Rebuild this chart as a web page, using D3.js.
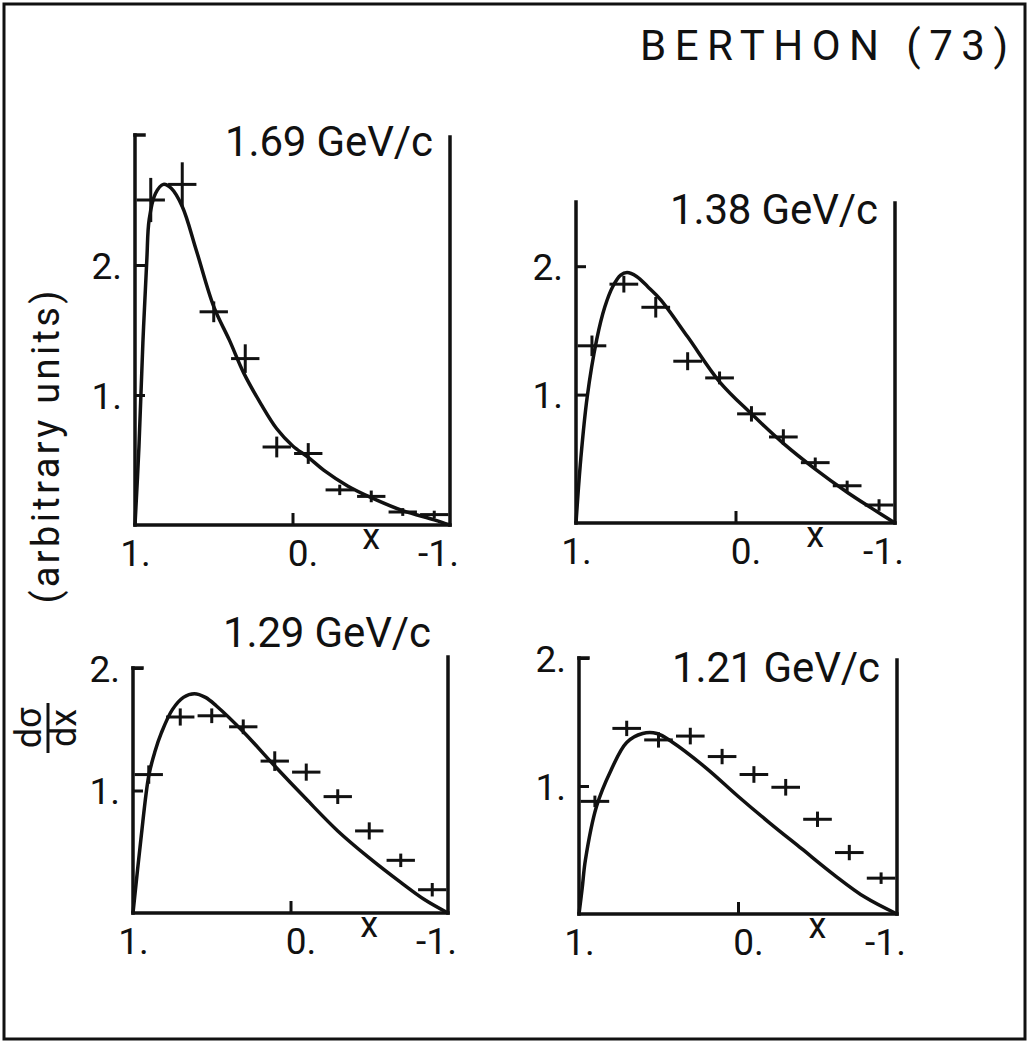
<!DOCTYPE html>
<html>
<head>
<meta charset="utf-8">
<script src="https://cdn.jsdelivr.net/npm/d3@7"></script>
<style>
  body { margin: 0; background: #fff; }
  svg { display: block; }
  text { font-family: Roboto, "DejaVu Sans", sans-serif; fill: #111; font-weight: 400; }
</style>
</head>
<body>
<svg width="1029" height="1044"></svg>
<script>
// values
const momenta = ['1.69 GeV/c', '1.38 GeV/c', '1.29 GeV/c', '1.21 GeV/c'];
const xBins = [0.9, 0.7, 0.5, 0.3, 0.1, -0.1, -0.3, -0.5, -0.7, -0.9];
const binHalf = 0.09;

const vals169 = [2.5, 2.62, 1.64, 1.28, 0.6, 0.55, 0.27, 0.22, 0.1, 0.08];
const errs169 = [0.17, 0.17, 0.08, 0.11, 0.08, 0.08, 0.04, 0.045, 0.03, 0.03];
const vals138 = [1.38, 1.86, 1.68, 1.26, 1.13, 0.85, 0.67, 0.47, 0.29, 0.14];
const errs138 = [0.08, 0.065, 0.08, 0.07, 0.05, 0.06, 0.06, 0.04, 0.04, 0.045];
const vals129 = [1.13, 1.6, 1.61, 1.52, 1.24, 1.15, 0.95, 0.67, 0.43, 0.19];
const errs129 = [0.075, 0.07, 0.06, 0.06, 0.08, 0.07, 0.06, 0.07, 0.055, 0.055];
const vals121 = [0.88, 1.45, 1.36, 1.39, 1.23, 1.09, 0.99, 0.74, 0.48, 0.28];
const errs121 = [0.045, 0.06, 0.06, 0.065, 0.06, 0.065, 0.065, 0.06, 0.06, 0.045];

// theory curves, [x, dsigma/dx]
const curve169 = [[1, 0], [0.975, 0.6], [0.95, 1.4], [0.925, 2.04], [0.91, 2.35], [0.87, 2.55], [0.82, 2.62],
  [0.77, 2.59], [0.7, 2.45], [0.61, 2.11], [0.5, 1.68], [0.4, 1.42], [0.31, 1.17], [0.2, 0.93], [0.1, 0.74],
  [0, 0.61], [-0.1, 0.52], [-0.2, 0.42], [-0.35, 0.3], [-0.5, 0.21], [-0.7, 0.11], [-0.9, 0.04], [-1, 0]];
const curve138 = [[1, 0], [0.97, 0.5], [0.93, 0.98], [0.87, 1.43], [0.82, 1.68], [0.77, 1.84], [0.72, 1.93],
  [0.68, 1.95], [0.62, 1.92], [0.55, 1.84], [0.47, 1.74], [0.3, 1.45], [0.1, 1.1], [-0.1, 0.85],
  [-0.3, 0.62], [-0.5, 0.42], [-0.7, 0.24], [-0.86, 0.11], [-1, 0]];
const curve129 = [[1, 0], [0.95, 0.6], [0.9, 1.12], [0.86, 1.32], [0.82, 1.47], [0.75, 1.66], [0.68, 1.76],
  [0.61, 1.79], [0.54, 1.76], [0.47, 1.69], [0.3, 1.48], [0.1, 1.2], [-0.1, 0.93], [-0.3, 0.67],
  [-0.5, 0.45], [-0.7, 0.25], [-0.85, 0.11], [-1, 0]];
const curve121 = [[1, 0], [0.98, 0.2], [0.96, 0.42], [0.89, 0.84], [0.8, 1.12], [0.7, 1.34], [0.6, 1.41],
  [0.51, 1.41], [0.41, 1.34], [0.2, 1.14], [0, 0.92], [-0.2, 0.71], [-0.4, 0.51], [-0.6, 0.31],
  [-0.8, 0.13], [-1, 0]];

const svg = d3.select('svg');

// outer frame
svg.append('rect')
  .attr('x', 4).attr('y', 4).attr('width', 1021).attr('height', 1035)
  .attr('fill', 'none').attr('stroke', '#111').attr('stroke-width', 3);

svg.append('text')
  .attr('x', 640).attr('y', 60)
  .attr('font-size', 42)
  .attr('textLength', 368).attr('lengthAdjust', 'spacing')
  .text('BERTHON (73)');

// panel boxes (left, right, bottom, top pixel, top value)
const panels = [
  {label: momenta[0], vals: vals169, errs: errs169, curve: curve169, l: 135, r: 450, b: 525, t: 135, ymax: 3, rTop: 137, bracket: true, ty: 156},
  {label: momenta[1], vals: vals138, errs: errs138, curve: curve138, l: 576, r: 895, b: 523, t: 202, ymax: 2.5, rTop: 203, bracket: false, ty: 224},
  {label: momenta[2], vals: vals129, errs: errs129, curve: curve129, l: 133, r: 448, b: 913, t: 668, ymax: 2, rTop: 657, bracket: true, ty: 647},
  {label: momenta[3], vals: vals121, errs: errs121, curve: curve121, l: 579, r: 897, b: 914, t: 658, ymax: 2, rTop: 660, bracket: true, ty: 682}
];

panels.forEach(p => {
  const x = d3.scaleLinear().domain([1, -1]).range([p.l, p.r]);
  const y = d3.scaleLinear().domain([0, p.ymax]).range([p.b, p.t]);
  const g = svg.append('g');

  // frame lines
  const frame = [
    [p.l, p.t, p.l, p.b],
    [p.l, p.b, p.r, p.b],
    [p.r, p.b, p.r, p.rTop]
  ];
  if (p.bracket) frame.push([p.l, p.t, p.l + 9, p.t]);
  g.selectAll('line.fr').data(frame).enter().append('line')
    .attr('class', 'fr')
    .attr('x1', d => d[0]).attr('y1', d => d[1]).attr('x2', d => d[2]).attr('y2', d => d[3])
    .attr('stroke', '#111').attr('stroke-width', 3.5).attr('stroke-linecap', 'square');

  const gy = g.append('g')
    .attr('transform', `translate(${p.l},0)`)
    .call(d3.axisLeft(y).tickValues([1, 2]).tickSizeInner(-10).tickSizeOuter(0).tickPadding(13)
      .tickFormat(d => d + '.'));
  gy.select('.domain').remove();
  gy.selectAll('line').attr('stroke', '#111').attr('stroke-width', 3);
  gy.selectAll('text').attr('font-size', 37).attr('font-family', null).attr('fill', '#111').attr('dy', '0.36em');

  const gx = g.append('g')
    .attr('transform', `translate(0,${p.b})`)
    .call(d3.axisBottom(x).tickValues([1, 0, -1]).tickSizeInner(-12).tickSizeOuter(0).tickPadding(7)
      .tickFormat(d => d + '.'));
  gx.select('.domain').remove();
  gx.selectAll('line').attr('stroke', '#111').attr('stroke-width', 3)
    .attr('opacity', d => d === 0 ? 1 : 0);
  gx.selectAll('text').attr('font-size', 37).attr('font-family', null).attr('fill', '#111')
    .attr('dy', '0.92em')
    .attr('dx', d => d === 0 ? 10 : d === -1 ? -12 : 0);

  g.append('text')
    .attr('x', x(-0.5)).attr('y', p.b + 24)
    .attr('text-anchor', 'middle').attr('font-size', 36)
    .text('x');

  g.append('text')
    .attr('x', p.r - 17).attr('y', p.ty)
    .attr('text-anchor', 'end').attr('font-size', 42)
    .attr('textLength', 208).attr('lengthAdjust', 'spacing')
    .text(p.label);

  // theory curve
  const line = d3.line().x(d => x(d[0])).y(d => y(d[1])).curve(d3.curveCatmullRom.alpha(0.5));
  g.append('path')
    .attr('d', line(p.curve))
    .attr('fill', 'none').attr('stroke', '#111').attr('stroke-width', 3.5);

  // data crosses
  const pts = xBins.map((xb, i) => ({x: xb, v: p.vals[i], e: p.errs[i]}));
  const cross = g.selectAll('g.pt').data(pts).enter().append('g').attr('class', 'pt');
  cross.append('line')
    .attr('x1', d => x(d.x + binHalf)).attr('x2', d => x(d.x - binHalf))
    .attr('y1', d => y(d.v)).attr('y2', d => y(d.v))
    .attr('stroke', '#111').attr('stroke-width', 3);
  cross.append('line')
    .attr('x1', d => x(d.x)).attr('x2', d => x(d.x))
    .attr('y1', d => y(d.v - d.e)).attr('y2', d => y(d.v + d.e))
    .attr('stroke', '#111').attr('stroke-width', 3);
});

// shared y label
svg.append('text')
  .attr('transform', 'translate(59,447) rotate(-90)')
  .attr('text-anchor', 'middle').attr('font-size', 38)
  .attr('textLength', 313).attr('lengthAdjust', 'spacing')
  .text('(arbitrary units)');

const frac = svg.append('g').attr('transform', 'translate(48,728) rotate(-90)');
frac.append('text').attr('x', 0).attr('y', -7).attr('text-anchor', 'middle').attr('font-size', 36).text('dσ');
frac.append('line').attr('x1', -25).attr('x2', 25).attr('y1', 0).attr('y2', 0)
  .attr('stroke', '#111').attr('stroke-width', 3);
frac.append('text').attr('x', 0).attr('y', 28).attr('text-anchor', 'middle').attr('font-size', 36).text('dx');
</script>
</body>
</html>
